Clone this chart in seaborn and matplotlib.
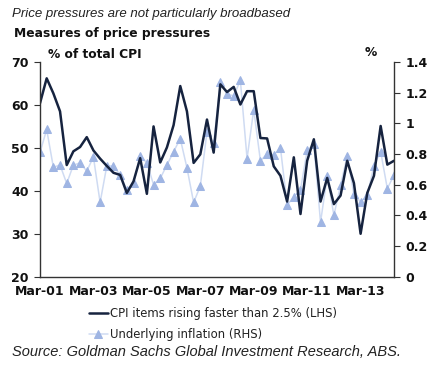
import matplotlib
matplotlib.use("Agg")
import matplotlib.pyplot as plt
import numpy as np
import pandas as pd
import seaborn as sns

# quarterly data, Mar-01 .. Jun-14
cpi_items = [60.4, 66.2, 62.7, 58.5, 46.0, 49.2, 50.2, 52.5, 49.4, 47.5,
             45.8, 44.2, 43.7, 39.5, 42.2, 47.6, 39.3, 55.0, 46.6, 50.1,
             55.3, 64.4, 58.5, 46.5, 48.5, 56.6, 48.9, 64.8, 63.0, 64.2,
             60.1, 63.2, 63.2, 52.3, 52.2, 45.7, 43.5, 37.5, 47.8, 34.6,
             47.0, 52.0, 37.5, 43.0, 36.9, 38.9, 47.0, 41.8, 30.0, 39.5,
             43.5, 55.1, 46.1, 47.0]
underlying = [0.81, 0.96, 0.714, 0.728, 0.608, 0.728, 0.742, 0.689, 0.78, 0.484,
              0.722, 0.722, 0.664, 0.568, 0.608, 0.79, 0.742, 0.60, 0.641, 0.728,
              0.815, 0.90, 0.71, 0.484, 0.59, 0.945, 0.87, 1.27, 1.19, 1.18,
              1.28, 0.77, 1.09, 0.756, 0.80, 0.795, 0.84, 0.468, 0.52, 0.568,
              0.823, 0.865, 0.355, 0.655, 0.40, 0.596, 0.788, 0.538, 0.488, 0.53,
              0.724, 0.816, 0.575, 0.662]
quarters = [p.strftime("%b-%y") for p in pd.period_range("2001Q1", periods=len(cpi_items), freq="Q")]
tick_labels = ["Mar-01", "Mar-03", "Mar-05", "Mar-07", "Mar-09", "Mar-11", "Mar-13"]
left_ticks = [20, 30, 40, 50, 60, 70]
right_ticks = [0, 0.2, 0.4, 0.6, 0.8, 1, 1.2, 1.4]

df = pd.DataFrame({"q": np.arange(len(quarters)), "cpi": cpi_items, "und": underlying})

sns.set_style("white")
plt.rcParams["font.family"] = ["DejaVu Sans"]

dark = "#16233f"
light_line = "#cfdbf2"
light_mark = "#9fb5e3"
axis_c = "#333333"

fig = plt.figure(figsize=(4.35, 3.69), dpi=100)
ax = fig.add_axes([40/435, 1-276.7/369, 354/435, 214.7/369])
ax2 = ax.twinx()

sns.lineplot(data=df, x="q", y="und", ax=ax2, color=light_line, lw=1.1,
             marker="^", markersize=6, markerfacecolor=light_mark,
             markeredgecolor=light_mark, label="Underlying inflation (RHS)", legend=False)
sns.lineplot(data=df, x="q", y="cpi", ax=ax, color=dark, lw=1.8,
             label="CPI items rising faster than 2.5% (LHS)", legend=False)
ax.set_zorder(ax2.get_zorder() + 1)
ax.patch.set_visible(False)

ax.set_xlim(0, len(quarters) - 1)
ax.set_ylim(20, 70)
ax2.set_ylim(0, 1.4)
ax.set_xticks([quarters.index(t) for t in tick_labels], labels=tick_labels)
ax.set_yticks(left_ticks, labels=[str(v) for v in left_ticks])
ax2.set_yticks(right_ticks, labels=[f"{v:g}" for v in right_ticks])
ax.set_xlabel("")
ax.set_ylabel("")
ax2.set_ylabel("")

for a in (ax, ax2):
    for s in a.spines.values():
        s.set_color(axis_c)
        s.set_linewidth(1.0)
    a.spines["top"].set_visible(False)
ax.spines["right"].set_visible(False)
ax2.spines["left"].set_visible(False)
ax2.spines["bottom"].set_visible(False)

ax.tick_params(axis="x", direction="out", length=3, color=axis_c, pad=3, labelsize=9, labelcolor="#111111")
ax.tick_params(axis="y", direction="out", length=4, color=axis_c, pad=4, labelsize=9, labelcolor="#111111", left=True)
ax2.tick_params(axis="y", direction="out", length=4, color=axis_c, pad=4, labelsize=9, labelcolor="#111111", right=True)
for lab in ax.get_xticklabels() + ax.get_yticklabels() + ax2.get_yticklabels():
    lab.set_fontweight("bold")

fig.text(12/435, 1-14/369, "Price pressures are not particularly broadbased", family="Liberation Sans",
         style="italic", fontsize=9.5, color="#222222", va="center", ha="left")
fig.text(14/435, 1-33/369, "Measures of price pressures", fontweight="bold", fontsize=8.8,
         color="#111111", va="center", ha="left")
fig.text(48/435, 1-55/369, "% of total CPI", fontweight="bold", fontsize=8.8, color="#111111",
         va="center", ha="left")
fig.text(371/435, 1-52/369, "%", fontweight="bold", fontsize=8.8, color="#111111", va="center", ha="center")
fig.text(12/435, 1-352/369, "Source: Goldman Sachs Global Investment Research, ABS.", family="Liberation Sans",
         style="italic", fontsize=10.5, color="#222222", va="center", ha="left")

handles = [ax.lines[0], ax2.lines[0]]
fig.legend(handles, [h.get_label() for h in handles], loc="upper left",
           bbox_to_anchor=(89/435, 1-307/369), frameon=False, fontsize=8.4,
           handlelength=1.6, handletextpad=0.2, labelspacing=0.7, borderaxespad=0,
           borderpad=0, labelcolor="#222222")

fig.savefig("out.png", dpi=100)
